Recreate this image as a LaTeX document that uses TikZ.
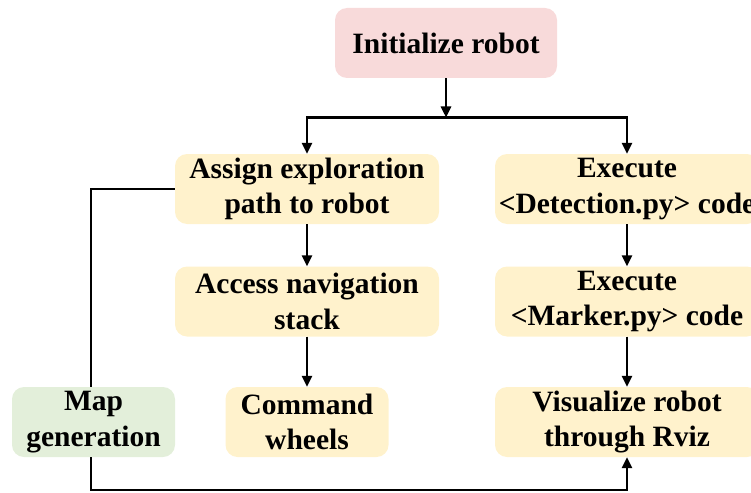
\documentclass[tikz,border=0pt]{standalone}
\usepackage{fontspec}
\setmainfont{Liberation Serif}
\usetikzlibrary{arrows.meta}
\definecolor{initfill}{HTML}{F8DADA}
\definecolor{stepfill}{HTML}{FFF2CC}
\definecolor{mapfill}{HTML}{E3EFDA}
\tikzset{
  box/.style={rounded corners=12pt, draw=none, align=center, inner sep=0pt,
    minimum height=70pt, font=\fontsize{29.5}{35.5}\selectfont\bfseries},
  wide/.style={box, fill=stepfill, minimum width=264pt},
  narrow/.style={box, minimum width=163pt},
  link/.style={line width=2.7pt, draw=black},
  arr/.style={link, -{Stealth[length=11pt,width=10pt,inset=0pt]}}
}
\begin{document}
\begin{tikzpicture}[x=1pt,y=-1pt]
\useasboundingbox (0,0) rectangle (751,492);
\node[box, fill=initfill, minimum width=222pt] (init) at (446,43) {Initialize robot};
\node[wide] (assign) at (307,189) {Assign exploration\\path to robot};
\node[wide] (access) at (307,301.5) {Access navigation\\stack};
\node[narrow, fill=stepfill] (wheels) at (307,422) {Command\\wheels};
\node[narrow, fill=mapfill] (map) at (93.5,422) {Map\\generation};
\node[wide] (detect) at (627,189) {Execute\\{<}Detection.py{>} code};
\node[wide] (marker) at (627,301.5) {Execute\\{<}Marker.py{>} code};
\node[wide] (visual) at (627,422) {Visualize robot\\through Rviz};
\coordinate (split) at (446,117.5);
\coordinate (bottom) at (91,490);
\draw[arr] (init.south) -- (split);
\draw[arr] (split) -| (assign.north);
\draw[arr] (split) -| (detect.north);
\draw[arr] (assign) -- (access);
\draw[arr] (access) -- (wheels);
\draw[arr] (detect) -- (marker);
\draw[arr] (marker) -- (visual);
\draw[link] (assign.west) -| (map.north -| bottom);
\draw[arr] (map.south -| bottom) -- (bottom) -| (visual.south);
\end{tikzpicture}
\end{document}
